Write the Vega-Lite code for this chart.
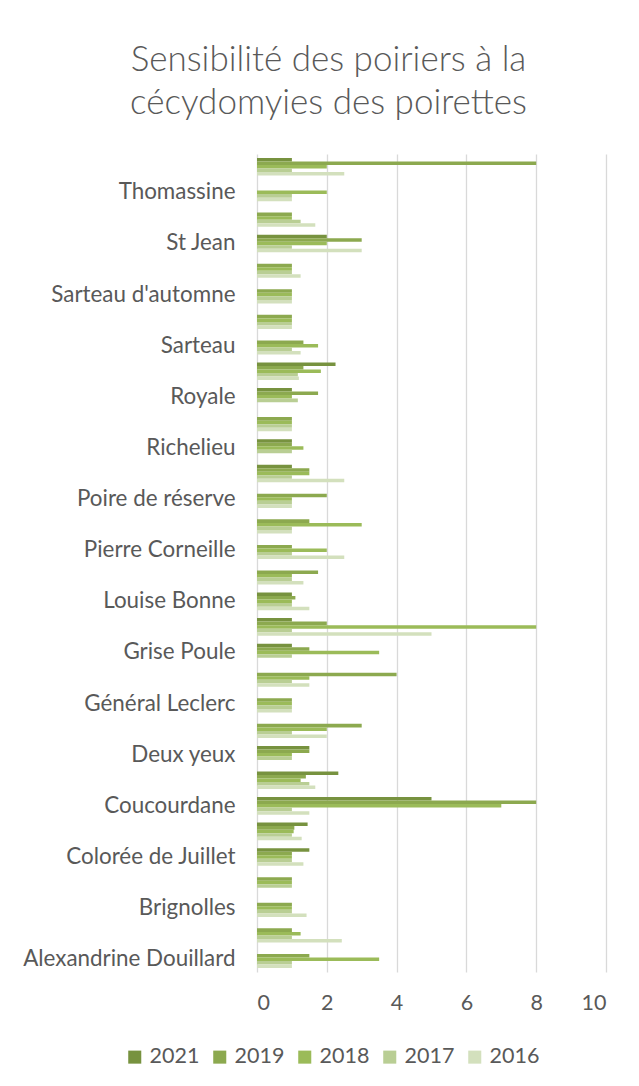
{
  "$schema": "https://vega.github.io/schema/vega-lite/v6.json",
  "width": 349,
  "height": 818,
  "autosize": {"type": "none"},
  "padding": {"left": 257, "top": 154, "right": 33, "bottom": 114},
  "background": "white",
  "config": {"font": "Lato", "view": {"stroke": null}},
  "title": {
    "text": ["Sensibilité des poiriers à la", "cécydomyies des poirettes"],
    "fontSize": 35,
    "fontWeight": 300,
    "color": "#595959",
    "anchor": "middle",
    "frame": "group",
    "dx": -103,
    "lineHeight": 43,
    "offset": 33
  },
  "data": {
    "values": [
      {"v": "Alexandrine Douillard", "y": "2019", "n": 1.5},
      {"v": "Alexandrine Douillard", "y": "2018", "n": 3.5},
      {"v": "Alexandrine Douillard", "y": "2017", "n": 1},
      {"v": "Alexandrine Douillard", "y": "2016", "n": 1},
      {"v": "Beurré Hardy", "y": "2019", "n": 1},
      {"v": "Beurré Hardy", "y": "2018", "n": 1.25},
      {"v": "Beurré Hardy", "y": "2017", "n": 1},
      {"v": "Beurré Hardy", "y": "2016", "n": 2.43},
      {"v": "Brignolles", "y": "2019", "n": 1},
      {"v": "Brignolles", "y": "2018", "n": 1},
      {"v": "Brignolles", "y": "2017", "n": 1},
      {"v": "Brignolles", "y": "2016", "n": 1.42},
      {"v": "Catillac", "y": "2019", "n": 1},
      {"v": "Catillac", "y": "2018", "n": 1},
      {"v": "Catillac", "y": "2017", "n": 1},
      {"v": "Colorée de Juillet", "y": "2021", "n": 1.5},
      {"v": "Colorée de Juillet", "y": "2019", "n": 1},
      {"v": "Colorée de Juillet", "y": "2018", "n": 1},
      {"v": "Colorée de Juillet", "y": "2017", "n": 1},
      {"v": "Colorée de Juillet", "y": "2016", "n": 1.33},
      {"v": "Conférence", "y": "2021", "n": 1.45},
      {"v": "Conférence", "y": "2019", "n": 1.07},
      {"v": "Conférence", "y": "2018", "n": 1.05},
      {"v": "Conférence", "y": "2017", "n": 1},
      {"v": "Conférence", "y": "2016", "n": 1.28},
      {"v": "Coucourdane", "y": "2021", "n": 5},
      {"v": "Coucourdane", "y": "2019", "n": 8},
      {"v": "Coucourdane", "y": "2018", "n": 7},
      {"v": "Coucourdane", "y": "2017", "n": 1},
      {"v": "Coucourdane", "y": "2016", "n": 1.5},
      {"v": "Curé", "y": "2021", "n": 2.33},
      {"v": "Curé", "y": "2019", "n": 1.4},
      {"v": "Curé", "y": "2018", "n": 1.25},
      {"v": "Curé", "y": "2017", "n": 1.5},
      {"v": "Curé", "y": "2016", "n": 1.67},
      {"v": "Deux yeux", "y": "2021", "n": 1.5},
      {"v": "Deux yeux", "y": "2019", "n": 1.5},
      {"v": "Deux yeux", "y": "2018", "n": 1},
      {"v": "Deux yeux", "y": "2017", "n": 1},
      {"v": "Doyenné du Comice", "y": "2019", "n": 3},
      {"v": "Doyenné du Comice", "y": "2018", "n": 2},
      {"v": "Doyenné du Comice", "y": "2017", "n": 1},
      {"v": "Doyenné du Comice", "y": "2016", "n": 2},
      {"v": "Général Leclerc", "y": "2019", "n": 1},
      {"v": "Général Leclerc", "y": "2018", "n": 1},
      {"v": "Général Leclerc", "y": "2017", "n": 1},
      {"v": "Général Leclerc", "y": "2016", "n": 1},
      {"v": "Giffard", "y": "2019", "n": 4},
      {"v": "Giffard", "y": "2018", "n": 1.5},
      {"v": "Giffard", "y": "2017", "n": 1},
      {"v": "Giffard", "y": "2016", "n": 1.5},
      {"v": "Grise Poule", "y": "2021", "n": 1},
      {"v": "Grise Poule", "y": "2019", "n": 1.5},
      {"v": "Grise Poule", "y": "2018", "n": 3.5},
      {"v": "Grise Poule", "y": "2017", "n": 1},
      {"v": "Jules Guyot", "y": "2021", "n": 1},
      {"v": "Jules Guyot", "y": "2019", "n": 2},
      {"v": "Jules Guyot", "y": "2018", "n": 8},
      {"v": "Jules Guyot", "y": "2017", "n": 1},
      {"v": "Jules Guyot", "y": "2016", "n": 5},
      {"v": "Louise Bonne", "y": "2021", "n": 1},
      {"v": "Louise Bonne", "y": "2019", "n": 1.1},
      {"v": "Louise Bonne", "y": "2018", "n": 1},
      {"v": "Louise Bonne", "y": "2017", "n": 1},
      {"v": "Louise Bonne", "y": "2016", "n": 1.5},
      {"v": "Passe Crassane", "y": "2019", "n": 1.75},
      {"v": "Passe Crassane", "y": "2018", "n": 1},
      {"v": "Passe Crassane", "y": "2017", "n": 1},
      {"v": "Passe Crassane", "y": "2016", "n": 1.33},
      {"v": "Pierre  Corneille", "y": "2019", "n": 1},
      {"v": "Pierre  Corneille", "y": "2018", "n": 2},
      {"v": "Pierre  Corneille", "y": "2017", "n": 1},
      {"v": "Pierre  Corneille", "y": "2016", "n": 2.5},
      {"v": "Poire curé", "y": "2019", "n": 1.5},
      {"v": "Poire curé", "y": "2018", "n": 3},
      {"v": "Poire curé", "y": "2017", "n": 1},
      {"v": "Poire curé", "y": "2016", "n": 1},
      {"v": "Poire de réserve", "y": "2019", "n": 2},
      {"v": "Poire de réserve", "y": "2018", "n": 1},
      {"v": "Poire de réserve", "y": "2017", "n": 1},
      {"v": "Poire de réserve", "y": "2016", "n": 1},
      {"v": "Poire de Sang", "y": "2021", "n": 1},
      {"v": "Poire de Sang", "y": "2019", "n": 1.5},
      {"v": "Poire de Sang", "y": "2018", "n": 1.5},
      {"v": "Poire de Sang", "y": "2017", "n": 1},
      {"v": "Poire de Sang", "y": "2016", "n": 2.5},
      {"v": "Richelieu", "y": "2021", "n": 1},
      {"v": "Richelieu", "y": "2019", "n": 1},
      {"v": "Richelieu", "y": "2018", "n": 1.33},
      {"v": "Richelieu", "y": "2017", "n": 1},
      {"v": "Rousselet", "y": "2019", "n": 1},
      {"v": "Rousselet", "y": "2018", "n": 1},
      {"v": "Rousselet", "y": "2017", "n": 1},
      {"v": "Rousselet", "y": "2016", "n": 1},
      {"v": "Royale", "y": "2021", "n": 1},
      {"v": "Royale", "y": "2019", "n": 1.75},
      {"v": "Royale", "y": "2018", "n": 1},
      {"v": "Royale", "y": "2017", "n": 1.17},
      {"v": "Saint Michel", "y": "2021", "n": 2.25},
      {"v": "Saint Michel", "y": "2019", "n": 1.33},
      {"v": "Saint Michel", "y": "2018", "n": 1.83},
      {"v": "Saint Michel", "y": "2017", "n": 1.17},
      {"v": "Saint Michel", "y": "2016", "n": 1.2},
      {"v": "Sarteau", "y": "2019", "n": 1.33},
      {"v": "Sarteau", "y": "2018", "n": 1.75},
      {"v": "Sarteau", "y": "2017", "n": 1},
      {"v": "Sarteau", "y": "2016", "n": 1.25},
      {"v": "Sarteau blanc", "y": "2019", "n": 1},
      {"v": "Sarteau blanc", "y": "2018", "n": 1},
      {"v": "Sarteau blanc", "y": "2017", "n": 1},
      {"v": "Sarteau blanc", "y": "2016", "n": 1},
      {"v": "Sarteau d'automne", "y": "2019", "n": 1},
      {"v": "Sarteau d'automne", "y": "2018", "n": 1},
      {"v": "Sarteau d'automne", "y": "2017", "n": 1},
      {"v": "Sarteau d'automne", "y": "2016", "n": 1},
      {"v": "Sarteau d'hiver", "y": "2019", "n": 1},
      {"v": "Sarteau d'hiver", "y": "2018", "n": 1},
      {"v": "Sarteau d'hiver", "y": "2017", "n": 1},
      {"v": "Sarteau d'hiver", "y": "2016", "n": 1.25},
      {"v": "St Jean", "y": "2021", "n": 2},
      {"v": "St Jean", "y": "2019", "n": 3},
      {"v": "St Jean", "y": "2018", "n": 2},
      {"v": "St Jean", "y": "2017", "n": 1},
      {"v": "St Jean", "y": "2016", "n": 3},
      {"v": "Sucrée de Montluçon", "y": "2019", "n": 1},
      {"v": "Sucrée de Montluçon", "y": "2018", "n": 1},
      {"v": "Sucrée de Montluçon", "y": "2017", "n": 1.25},
      {"v": "Sucrée de Montluçon", "y": "2016", "n": 1.67},
      {"v": "Thomassine", "y": "2018", "n": 2},
      {"v": "Thomassine", "y": "2017", "n": 1},
      {"v": "Thomassine", "y": "2016", "n": 1},
      {"v": "Williams", "y": "2021", "n": 1},
      {"v": "Williams", "y": "2019", "n": 8},
      {"v": "Williams", "y": "2018", "n": 2},
      {"v": "Williams", "y": "2017", "n": 1},
      {"v": "Williams", "y": "2016", "n": 2.5}
    ]
  },
  "mark": {"type": "bar"},
  "encoding": {
    "y": {
      "field": "v",
      "type": "nominal",
      "sort": ["Williams", "Thomassine", "Sucrée de Montluçon", "St Jean", "Sarteau d'hiver", "Sarteau d'automne", "Sarteau blanc", "Sarteau", "Saint Michel", "Royale", "Rousselet", "Richelieu", "Poire de Sang", "Poire de réserve", "Poire curé", "Pierre  Corneille", "Passe Crassane", "Louise Bonne", "Jules Guyot", "Grise Poule", "Giffard", "Général Leclerc", "Doyenné du Comice", "Deux yeux", "Curé", "Coucourdane", "Conférence", "Colorée de Juillet", "Catillac", "Brignolles", "Beurré Hardy", "Alexandrine Douillard"],
      "scale": {"paddingInner": 0.31, "paddingOuter": 0.155},
      "axis": {
        "title": null,
        "values": ["Thomassine", "St Jean", "Sarteau d'automne", "Sarteau", "Royale", "Richelieu", "Poire de réserve", "Pierre  Corneille", "Louise Bonne", "Grise Poule", "Général Leclerc", "Deux yeux", "Coucourdane", "Colorée de Juillet", "Brignolles", "Alexandrine Douillard"],
        "labelFontSize": 22.4,
        "labelColor": "#595959",
        "labelPadding": 22,
        "labelLimit": 300,
        "domain": false,
        "ticks": false,
        "grid": false
      }
    },
    "yOffset": {
      "field": "y",
      "type": "nominal",
      "sort": ["2021", "2019", "2018", "2017", "2016"],
      "scale": {"domain": ["2021", "2019", "2018", "2017", "2016"], "paddingInner": 0, "paddingOuter": 0}
    },
    "x": {
      "field": "n",
      "type": "quantitative",
      "scale": {"domain": [0, 10], "nice": false},
      "axis": {
        "title": null,
        "values": [0, 2, 4, 6, 8, 10],
        "domain": false,
        "ticks": false,
        "gridColor": "#D9D9D9",
        "gridWidth": 1.3,
        "labelFontSize": 21.5,
        "labelColor": "#595959",
        "labelPadding": 20
      }
    },
    "color": {
      "field": "y",
      "type": "nominal",
      "scale": {"domain": ["2021", "2019", "2018", "2017", "2016"], "range": ["#77923F", "#8CA94F", "#9BBB59", "#B9CE94", "#D3E0BD"]},
      "legend": {
        "title": null,
        "orient": "none",
        "legendX": -133,
        "legendY": 892,
        "direction": "horizontal",
        "columns": 5,
        "symbolType": "square",
        "symbolSize": 170,
        "symbolStrokeWidth": 0,
        "labelFontSize": 21.5,
        "labelColor": "#595959",
        "labelOffset": 4,
        "columnPadding": 9
      }
    }
  }
}
